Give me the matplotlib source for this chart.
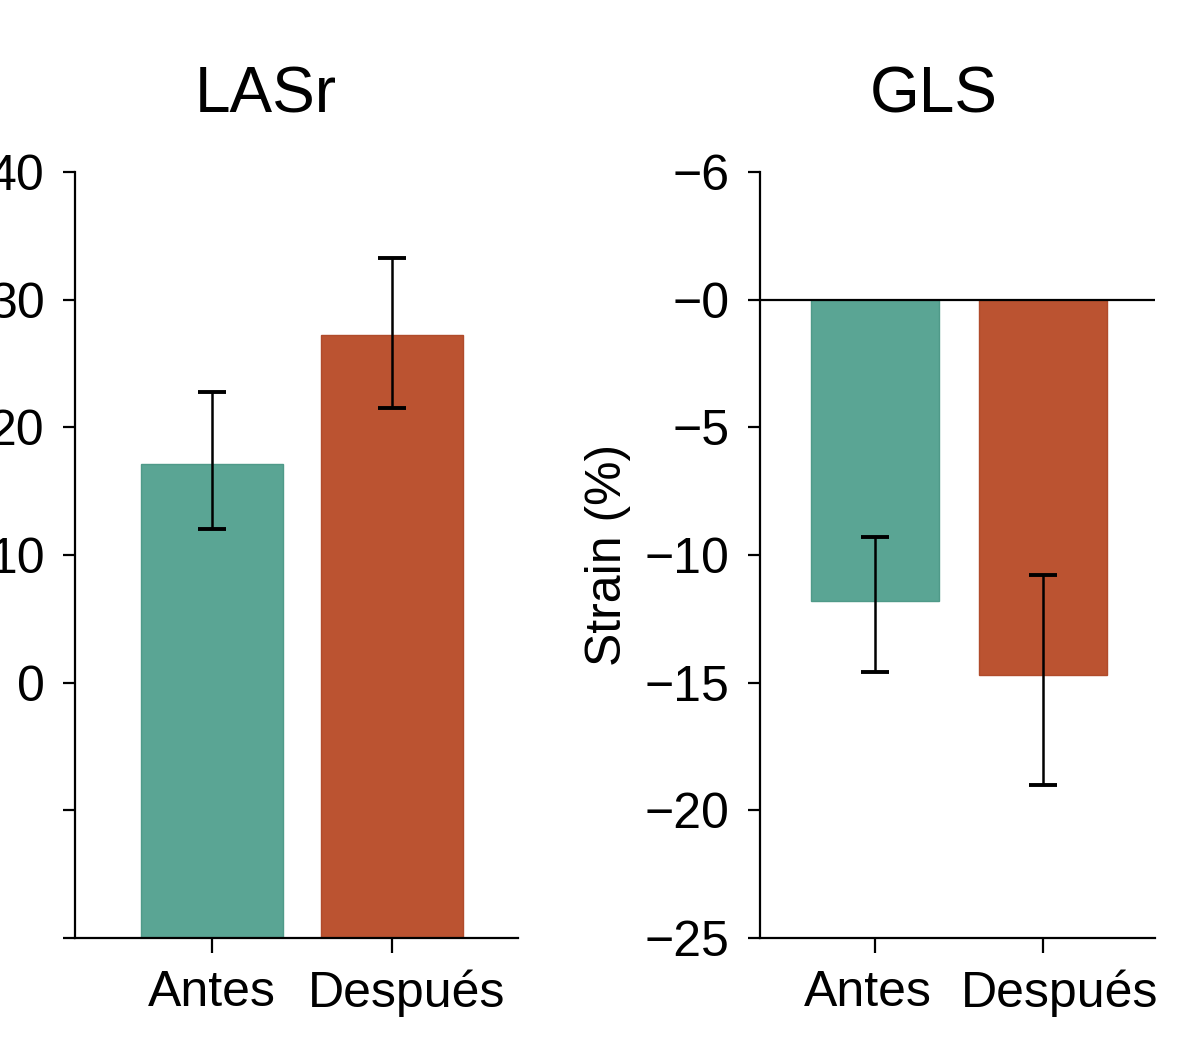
import numpy as np
import matplotlib
matplotlib.use('Agg')
import matplotlib.pyplot as plt
import matplotlib.transforms as mtransforms

plt.rcParams['font.family'] = ['Liberation Sans', 'DejaVu Sans']

groups = ['Antes', 'Después']
colors = ['#5aa594', '#bb5331']
edges = ['#4f9a89', '#b04b2b']

# LASr (%)
lasr_vals = [17.1, 27.2]
lasr_hi = [22.8, 33.3]
lasr_lo = [12.0, 21.5]
lasr_ticks = [40, 30, 20, 10, 0, -10, -20]
lasr_labels = ['40', '30', '20', '10', '0', '', '']

# GLS (%)
gls_vals = [-11.8, -14.7]
gls_hi = [-9.3, -10.8]
gls_lo = [-14.6, -19.0]
gls_ticks = [5, 0, -5, -10, -15, -20, -25]
gls_labels = ['\u22126', '\u22120', '\u22125', '\u221210', '\u221215', '\u221220', '\u221225']

fig = plt.figure(figsize=(12, 10.51), dpi=100)
ax1 = fig.add_axes([75/1200, 1-938/1051, (518-75)/1200, (938-172)/1051])
ax2 = fig.add_axes([760/1200, 1-938/1051, (1155-760)/1200, (938-172)/1051])

def style(ax, shifts):
    for s in ['top', 'right']:
        ax.spines[s].set_visible(False)
    for s in ['left', 'bottom']:
        ax.spines[s].set_linewidth(1.6)
    ax.tick_params(axis='y', length=9, width=1.6, pad=13, labelsize=36)
    ax.tick_params(axis='x', length=11, width=1.6, pad=12, labelsize=36)
    # nudge the category labels apart a little, as in the original
    for lab, dx in zip(ax.get_xticklabels(), shifts):
        lab.set_transform(lab.get_transform() +
                          mtransforms.ScaledTranslation(dx / 100, 0, fig.dpi_scale_trans))

x = np.arange(len(groups))

# left panel: bars drawn from the axis floor
base = -20
ax1.bar(x, np.array(lasr_vals) - base, bottom=base, width=0.79,
        color=colors, edgecolor=edges, linewidth=1)
yerr1 = [np.array(lasr_vals) - np.array(lasr_lo), np.array(lasr_hi) - np.array(lasr_vals)]
ax1.errorbar(x, lasr_vals, yerr=yerr1, fmt='none', ecolor='black',
             elinewidth=1.8, capsize=10, capthick=2.8)
ax1.set_ylim(-20, 40)
ax1.set_xlim(-0.76, 1.7)
ax1.set_yticks(lasr_ticks)
ax1.set_yticklabels(lasr_labels)
ax1.set_xticks(x)
ax1.set_xticklabels(groups)
ax1.set_title('LASr', fontsize=46, pad=43, x=0.43)
style(ax1, [0, 15])

# right panel
ax2.bar(x, gls_vals, width=0.76, color=colors, edgecolor=edges, linewidth=1)
yerr2 = [np.array(gls_vals) - np.array(gls_lo), np.array(gls_hi) - np.array(gls_vals)]
ax2.errorbar(x, gls_vals, yerr=yerr2, fmt='none', ecolor='black',
             elinewidth=1.8, capsize=10, capthick=2.8)
ax2.axhline(0, color='black', linewidth=1.6)
ax2.set_ylim(-25, 5)
ax2.set_xlim(-0.685, 1.667)
ax2.set_yticks(gls_ticks)
ax2.set_yticklabels(gls_labels)
ax2.set_xticks(x)
ax2.set_xticklabels(groups)
ax2.set_ylabel('Strain (%)', fontsize=36, labelpad=10)
ax2.set_title('GLS', fontsize=46, pad=43, x=0.44)
style(ax2, [-7, 17])

fig.savefig('out.png', dpi=100, facecolor='white')
